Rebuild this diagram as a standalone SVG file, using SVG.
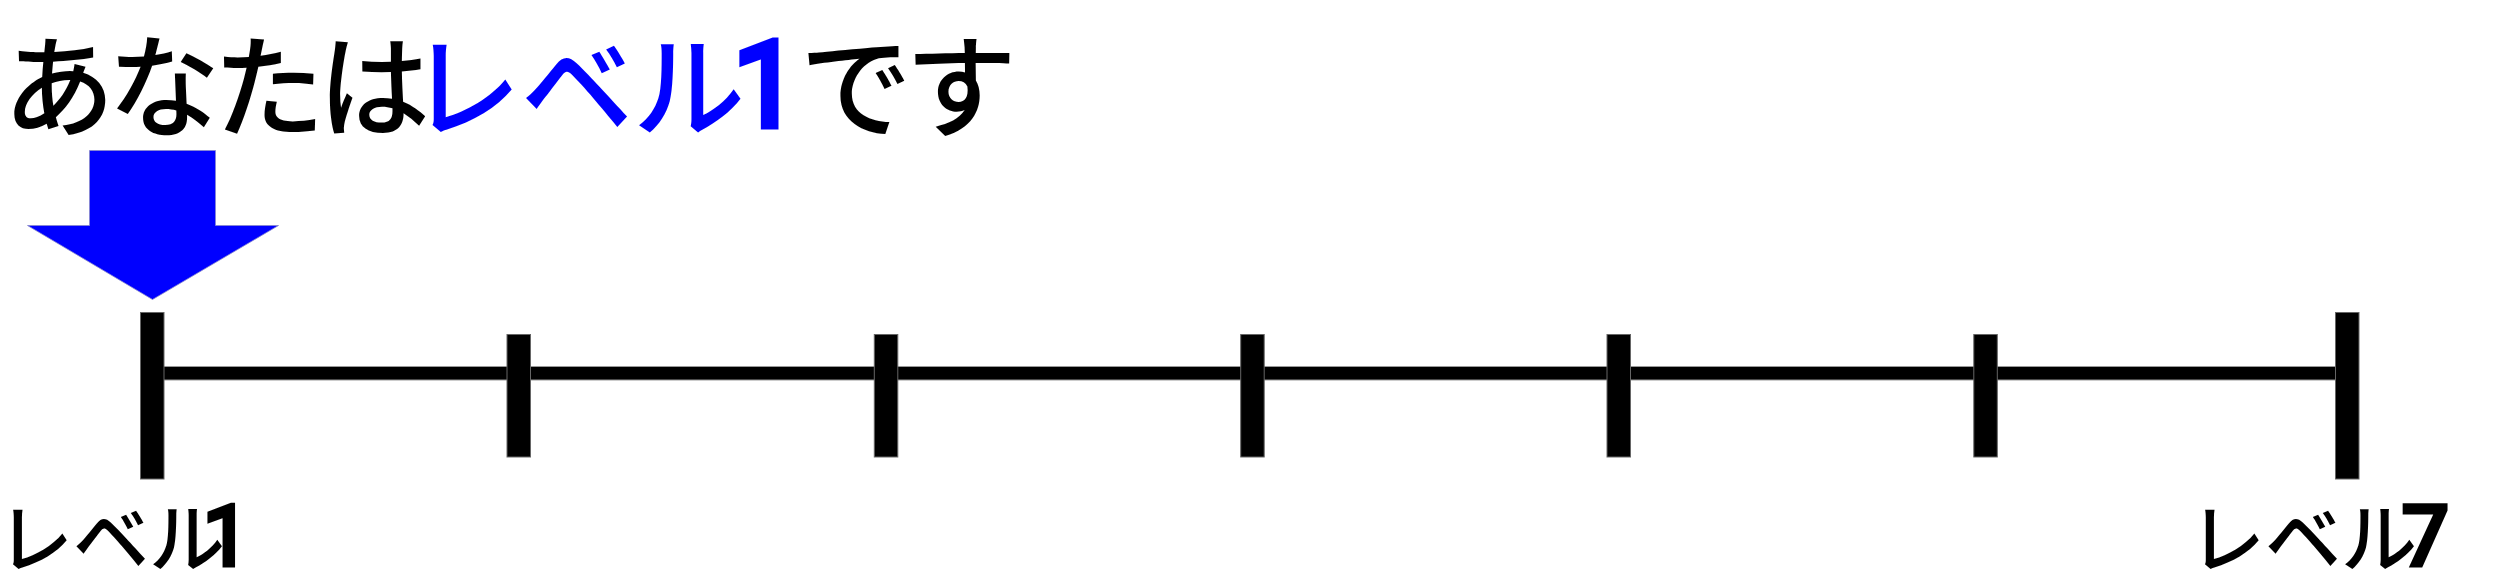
<svg xmlns="http://www.w3.org/2000/svg" width="2500" height="580" viewBox="0 0 2500 580">
<style>
.jp{font-family:"Noto Sans CJK JP","Noto Sans JP",sans-serif;font-weight:500}
.num{font-family:Roboto,"Liberation Sans",sans-serif;stroke-linejoin:miter}
.tick{fill:#000;stroke:#666;stroke-width:1}
.bar{fill:#000;stroke:#999;stroke-width:1}
</style>
<rect width="2500" height="580" fill="#fff"/>
<g id="title">
<text x="3" y="129" class="jp" font-size="112" letter-spacing="-7">あなたは</text>
<text x="409" y="129" class="jp" font-size="112" letter-spacing="0" fill="#0000ff">レベル</text>
<text x="733" y="125.5" class="num" font-size="118" fill="#0000ff" stroke="#0000ff" stroke-width="7">1</text>
<text x="800" y="129" class="jp" font-size="112" letter-spacing="-7">です</text>
</g>
<g id="pointer">
<polygon points="89.5,150.5 215.5,150.5 215.5,225.5 278.5,225.5 152.5,299.5 27.5,225.5 89.5,225.5" fill="#0000ff" stroke="#8888cc" stroke-width="0.8"/>
</g>
<g id="connectors">
<rect class="bar" x="160" y="366.5" width="2180" height="13.5"/>
</g>
<g id="level1"><rect class="tick" x="140.5" y="312.5" width="23.5" height="166.5"/></g>
<g id="level2"><rect class="tick" x="507" y="334.5" width="23.5" height="122.5"/></g>
<g id="level3"><rect class="tick" x="874.3" y="334.5" width="23.5" height="122.5"/></g>
<g id="level4"><rect class="tick" x="1240.7" y="334.5" width="23.5" height="122.5"/></g>
<g id="level5"><rect class="tick" x="1607" y="334.5" width="23.5" height="122.5"/></g>
<g id="level6"><rect class="tick" x="1973.8" y="334.5" width="23.5" height="122.5"/></g>
<g id="level7"><rect class="tick" x="2335.5" y="312.5" width="23.5" height="166.5"/></g>
<g id="label1">
<text x="-3" y="567" class="jp" font-size="76">レベル</text>
<text x="203" y="564.5" class="num" font-size="83" stroke="#000" stroke-width="5">1</text>
</g>
<g id="label7">
<text x="2189" y="567" class="jp" font-size="76">レベル</text>
<text x="2402" y="564.5" class="num" font-size="83" stroke="#000" stroke-width="5">7</text>
</g>
</svg>
